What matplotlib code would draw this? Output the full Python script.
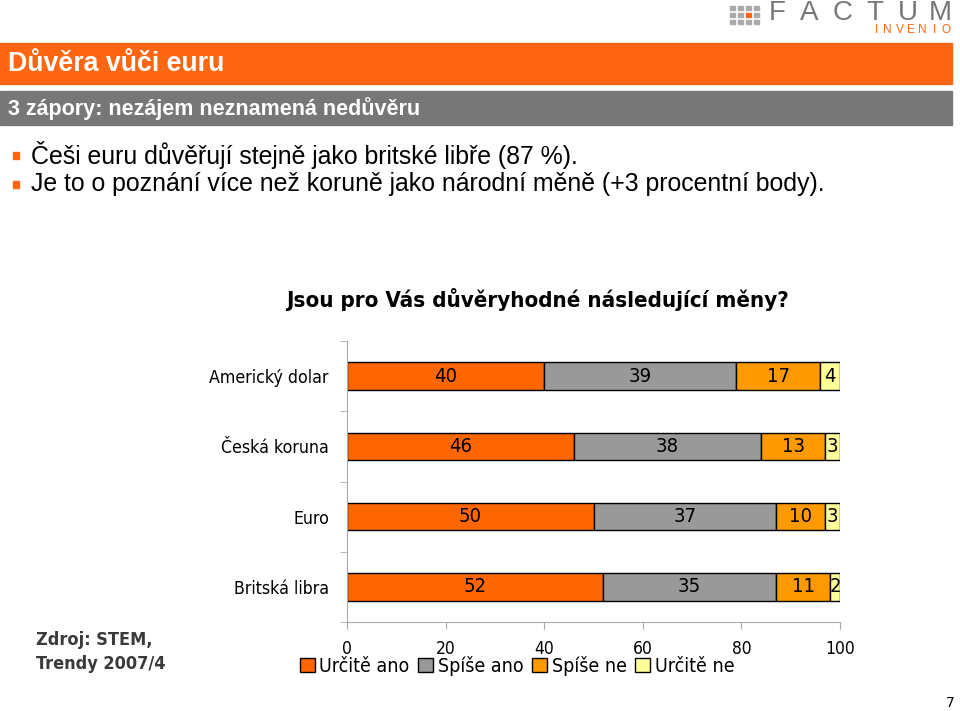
import matplotlib.pyplot as plt
from matplotlib.patches import Rectangle
import numpy as np

kategorie = ["Americký dolar", "Česká koruna", "Euro", "Britská libra"]
serie = ["Určitě ano", "Spíše ano", "Spíše ne", "Určitě ne"]
urcite_ano = [40, 46, 50, 52]
spise_ano = [39, 38, 37, 35]
spise_ne = [17, 13, 10, 11]
urcite_ne = [4, 3, 3, 2]
barvy = ["#FF6600", "#999999", "#FF9900", "#FFFF99"]
xticky = [0, 20, 40, 60, 80, 100]

narrow = ["DejaVu Sans", "Liberation Sans"]
sans = ["Liberation Sans", "DejaVu Sans"]
NS = "condensed"

W, H = 960, 711
fig = plt.figure(figsize=(W / 100, H / 100), dpi=100)


def fx(px):
    return px / W


def fy(py):
    return 1 - py / H


# hlavicka
fig.patches.append(Rectangle((0, fy(84)), fx(952), (84 - 43) / H,
                             transform=fig.transFigure, color="#FF6611", zorder=0))
fig.patches.append(Rectangle((0, fy(125)), fx(952), (125 - 91) / H,
                             transform=fig.transFigure, color="#777777", zorder=0))
fig.text(fx(8), fy(64), "Důvěra vůči euru", color="white", fontsize=19.3,
         fontweight="bold", family=sans, va="center")
fig.text(fx(8), fy(109), "3 zápory: nezájem neznamená nedůvěru", color="white",
         fontsize=15.5, fontweight="bold", family=sans, va="center")

# odrazky
odrazky = ["Češi euru důvěřují stejně jako britské libře (87 %).",
           "Je to o poznání více než koruně jako národní měně (+3 procentní body)."]
for i, t in enumerate(odrazky):
    y = 155 + i * 29
    fig.patches.append(Rectangle((fx(13), fy(y + 4)), fx(6), 7 / H,
                                 transform=fig.transFigure, color="#FF6611"))
    fig.text(fx(31), fy(y), t, fontsize=17.9, family=sans, va="center")

# logo
for r in range(3):
    for c in range(4):
        col = "#FF6611" if (r == 1 and c == 2) else "#AAAAAA"
        fig.patches.append(Rectangle((fx(730 + c * 8), fy(6 + r * 7 + 4)), fx(5), 4 / H,
                                     transform=fig.transFigure, color=col))
for i, ch in enumerate("FACTUM"):
    fig.text(fx(777 + i * 32.6), fy(12.5), ch, color="#777777", fontsize=20,
             family=sans, ha="center", va="center")
for i, ch in enumerate("INVENIO"):
    fig.text(fx(876 + i * 11.7), fy(30), ch, color="#FF6611", fontsize=8.5,
             family=sans, ha="center", va="center")

# titulek grafu
fig.text(fx(537), fy(300), "Jsou pro Vás důvěryhodné následující měny?",
         fontsize=16, fontweight="bold", family=narrow, fontstretch=NS,
         ha="center", va="center")

# graf
ax = fig.add_axes([fx(347), fy(622), fx(840 - 347), (622 - 341) / H])
y = np.arange(len(kategorie))
hodnoty = [urcite_ano, spise_ano, spise_ne, urcite_ne]
left = np.zeros(len(kategorie))
for name, vals, col in zip(serie, hodnoty, barvy):
    vals = np.array(vals)
    ax.barh(y, vals, left=left, height=0.39, color=col, edgecolor="black",
            linewidth=1, label=name)
    for yi, l, v in zip(y, left, vals):
        ax.text(l + v / 2, yi, str(v), ha="center", va="center",
                fontsize=14.5, family=narrow, fontstretch=NS)
    left += vals

ax.set_xlim(0, 100)
ax.set_ylim(len(kategorie) - 0.5, -0.5)
ax.set_yticks(y)
ax.set_yticklabels(kategorie, family=narrow, fontsize=12.7, stretch=NS)
ax.set_yticks(np.arange(len(kategorie) + 1) - 0.5, minor=True)
ax.tick_params(axis="y", which="major", length=0, pad=13)
ax.tick_params(axis="y", which="minor", length=5, color="#AAAAAA")
ax.set_xticks(xticky)
ax.set_xticklabels([str(v) for v in xticky], family=narrow, fontsize=12.5,
                   stretch=NS)
ax.tick_params(axis="x", length=5, color="#AAAAAA", pad=8)
for s in ["top", "right"]:
    ax.spines[s].set_visible(False)
for s in ["left", "bottom"]:
    ax.spines[s].set_color("#AAAAAA")

fig.legend(loc="center left", bbox_to_anchor=(fx(300), fy(666)), ncol=4,
           frameon=False, handlelength=0.75, handleheight=0.75, handletextpad=0.25,
           columnspacing=0.45, borderaxespad=0, borderpad=0,
           prop={"family": narrow, "size": 14, "stretch": NS})

fig.text(fx(36), fy(640), "Zdroj: STEM,", color="#3A3A3A", fontsize=13,
         fontweight="bold", family=narrow, fontstretch=NS, va="center")
fig.text(fx(36), fy(664), "Trendy 2007/4", color="#3A3A3A", fontsize=13,
         fontweight="bold", family=narrow, fontstretch=NS, va="center")
fig.text(fx(955), fy(703), "7", fontsize=10, family=narrow, ha="right", va="center")

fig.savefig("out.png", dpi=100)
